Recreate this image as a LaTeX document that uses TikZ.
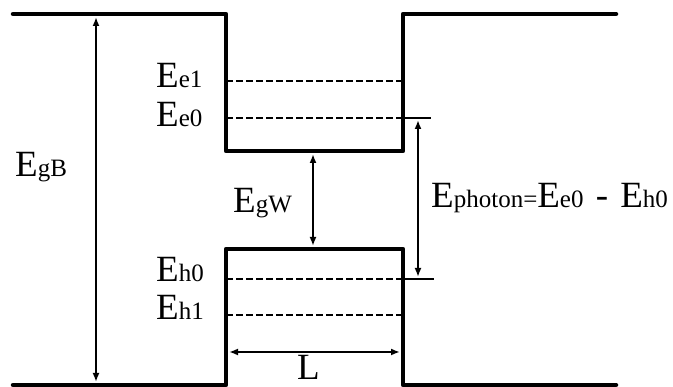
\documentclass[tikz,border=0pt]{standalone}
\usepackage{fontspec}
\setmainfont{Liberation Serif}
\usetikzlibrary{arrows.meta}
\newcommand{\subt}[1]{{\fontsize{25}{25}\selectfont #1}}
\tikzset{
  well/.style={line width=4.5pt, line join=round, line cap=round},
  level/.style={line width=2pt, dash pattern=on 6.5pt off 3.5pt},
  tick/.style={line width=2pt},
  dim/.style={line width=2pt, {Latex[length=9pt,width=7pt]}-{Latex[length=9pt,width=7pt]}, shorten >=1pt, shorten <=1pt},
  lab/.style={inner sep=0pt, anchor=base west, font=\fontsize{37}{37}\selectfont}
}
\begin{document}
\begin{tikzpicture}[x=1pt,y=-1pt]
\useasboundingbox (0,0) rectangle (673,387);
% conduction band
\coordinate (cbL) at (13,14);
\coordinate (cb1) at (226,14);
\coordinate (cb2) at (226,151);
\coordinate (cb3) at (403,151);
\coordinate (cb4) at (403,14);
\coordinate (cbR) at (616,14);
\draw[well] (cbL) -- (cb1) -- (cb2) -- (cb3) -- (cb4) -- (cbR);
% valence band
\coordinate (vbL) at (13,385);
\coordinate (vb1) at (226,385);
\coordinate (vb2) at (226,249);
\coordinate (vb3) at (403,249);
\coordinate (vb4) at (403,385);
\coordinate (vbR) at (616,385);
\draw[well] (vbL) -- (vb1) -- (vb2) -- (vb3) -- (vb4) -- (vbR);
% levels
\coordinate (e1L) at (226,81);  \coordinate (e1R) at (403,81);
\coordinate (e0L) at (226,118); \coordinate (e0R) at (403,118); \coordinate (e0X) at (431,118);
\coordinate (h0L) at (226,279); \coordinate (h0R) at (403,279); \coordinate (h0X) at (434,279);
\coordinate (h1L) at (226,315); \coordinate (h1R) at (403,315);
\draw[level] (e1L) -- (e1R);
\draw[level] (e0L) -- (e0R);
\draw[level] (h0L) -- (h0R);
\draw[level] (h1L) -- (h1R);
\draw[tick] (e0R) -- (e0X);
\draw[tick] (h0R) -- (h0X);
% dimension arrows
\coordinate (gbT) at (96,16); \coordinate (gbB) at (96,383);
\draw[dim] (gbT) -- (gbB);
\coordinate (gwT) at (313,153); \coordinate (gwB) at (313,247);
\draw[dim] (gwT) -- (gwB);
\coordinate (phT) at (418,119); \coordinate (phB) at (418,278);
\draw[dim] (phT) -- (phB);
\coordinate (lL) at (228,352); \coordinate (lR) at (401,352);
\draw[dim] (lL) -- (lR);
% labels
\node[lab] (EgB) at (15,177) {E\subt{gB}};
\node[lab] (Ee1) at (156,88) {E\subt{e1}};
\node[lab] (Ee0) at (156,127) {E\subt{e0}};
\node[lab] (EgW) at (233,213) {E\subt{gW}};
\node[lab] (Eh0) at (156,282) {E\subt{h0}};
\node[lab] (Eh1) at (156,320) {E\subt{h1}};
\node[lab] (Eph) at (431,208) {E\subt{photon=}E\subt{e0}\hspace{3pt} - \hspace{3pt}E\subt{h0}};
\node[lab] (L) at (297,380) {L};
\end{tikzpicture}
\end{document}
